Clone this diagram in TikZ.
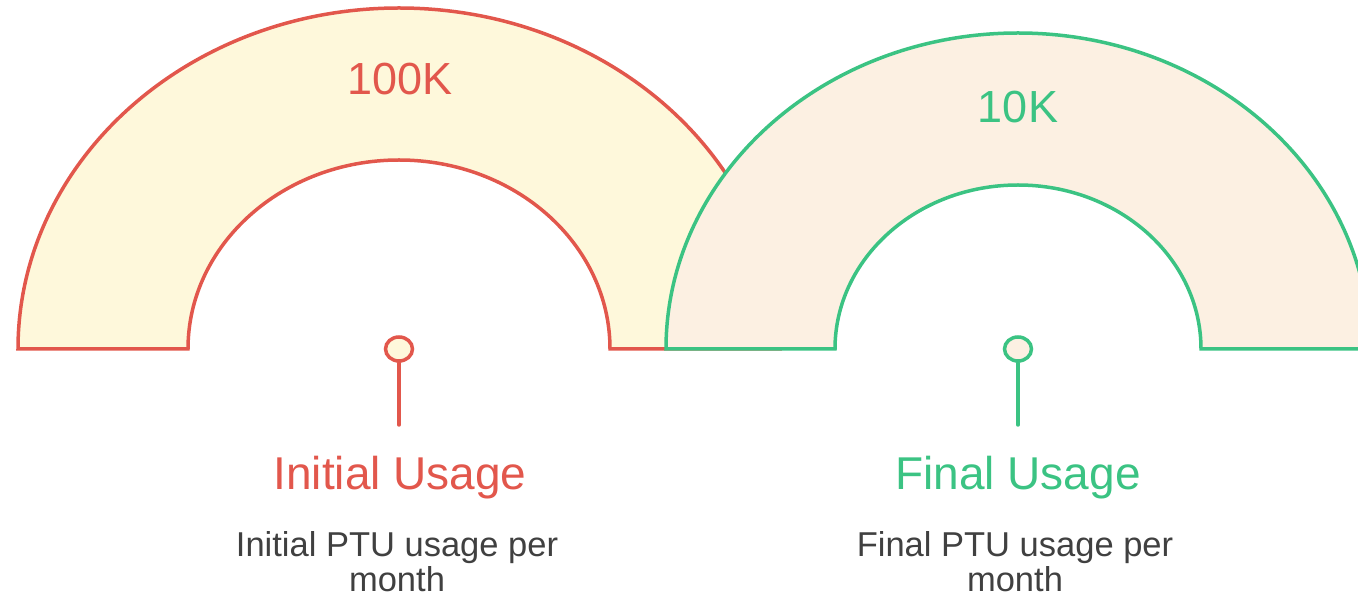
\documentclass[tikz,border=0pt]{standalone}
\usepackage{fontspec}
\setmainfont{Liberation Sans}
\usetikzlibrary{shapes.geometric}
\definecolor{redline}{HTML}{E2574C}
\definecolor{redfill}{HTML}{FEF8DB}
\definecolor{greenline}{HTML}{3BC383}
\definecolor{greenfill}{HTML}{FCF0E2}
\definecolor{greytext}{HTML}{404040}
\tikzstyle{none}=[inner sep=0pt]
\tikzstyle{arch}=[line width=3.5pt,line join=miter]
\tikzstyle{pin}=[ellipse,line width=3.5pt,minimum width=27pt,minimum height=24pt,inner sep=0pt]
\tikzstyle{stem}=[-,line width=3.5pt,line cap=round]
\tikzstyle{value}=[inner sep=0pt,anchor=base,font=\fontsize{45}{45}\selectfont]
\tikzstyle{title}=[inner sep=0pt,anchor=base,font=\fontsize{46}{46}\selectfont]
\tikzstyle{caption}=[inner sep=0pt,anchor=base,align=center,text=greytext,font=\fontsize{34.5}{35}\selectfont]

\begin{document}
\begin{tikzpicture}[x=1pt,y=1pt]
	\useasboundingbox (0,0) rectangle (1358,597);
	\clip (0,0) rectangle (1358,597);
	\draw [style=arch, draw=redline, fill=redfill] (18,248) arc [start angle=180, end angle=0, x radius=381, y radius=341] -- (610,248) arc [start angle=0, end angle=180, x radius=211, y radius=189] -- cycle;
	\draw [style=arch, draw=greenline, fill=greenfill] (666,248) arc [start angle=180, end angle=0, x radius=352, y radius=316] -- (1201,248) arc [start angle=0, end angle=180, x radius=183, y radius=164] -- cycle;
	\node [style=value, text=redline] (0) at (400,502) {100K};
	\node [style=value, text=greenline] (1) at (1018,474) {10K};
	\node [style=pin, draw=redline, fill=redfill] (2) at (399,248) {};
	\node [style=pin, draw=greenline, fill=greenfill] (3) at (1018,248) {};
	\coordinate (4) at (399,172);
	\coordinate (5) at (1018,172);
	\draw [style=stem, draw=redline] (2) to (4);
	\draw [style=stem, draw=greenline] (3) to (5);
	\node [style=title, text=redline] (6) at (400,107) {Initial Usage};
	\node [style=title, text=greenline] (7) at (1018,107) {Final Usage};
	\node [style=caption] (8) at (397,5) {Initial PTU usage per\\month};
	\node [style=caption] (9) at (1015,5) {Final PTU usage per\\month};
\end{tikzpicture}
\end{document}
